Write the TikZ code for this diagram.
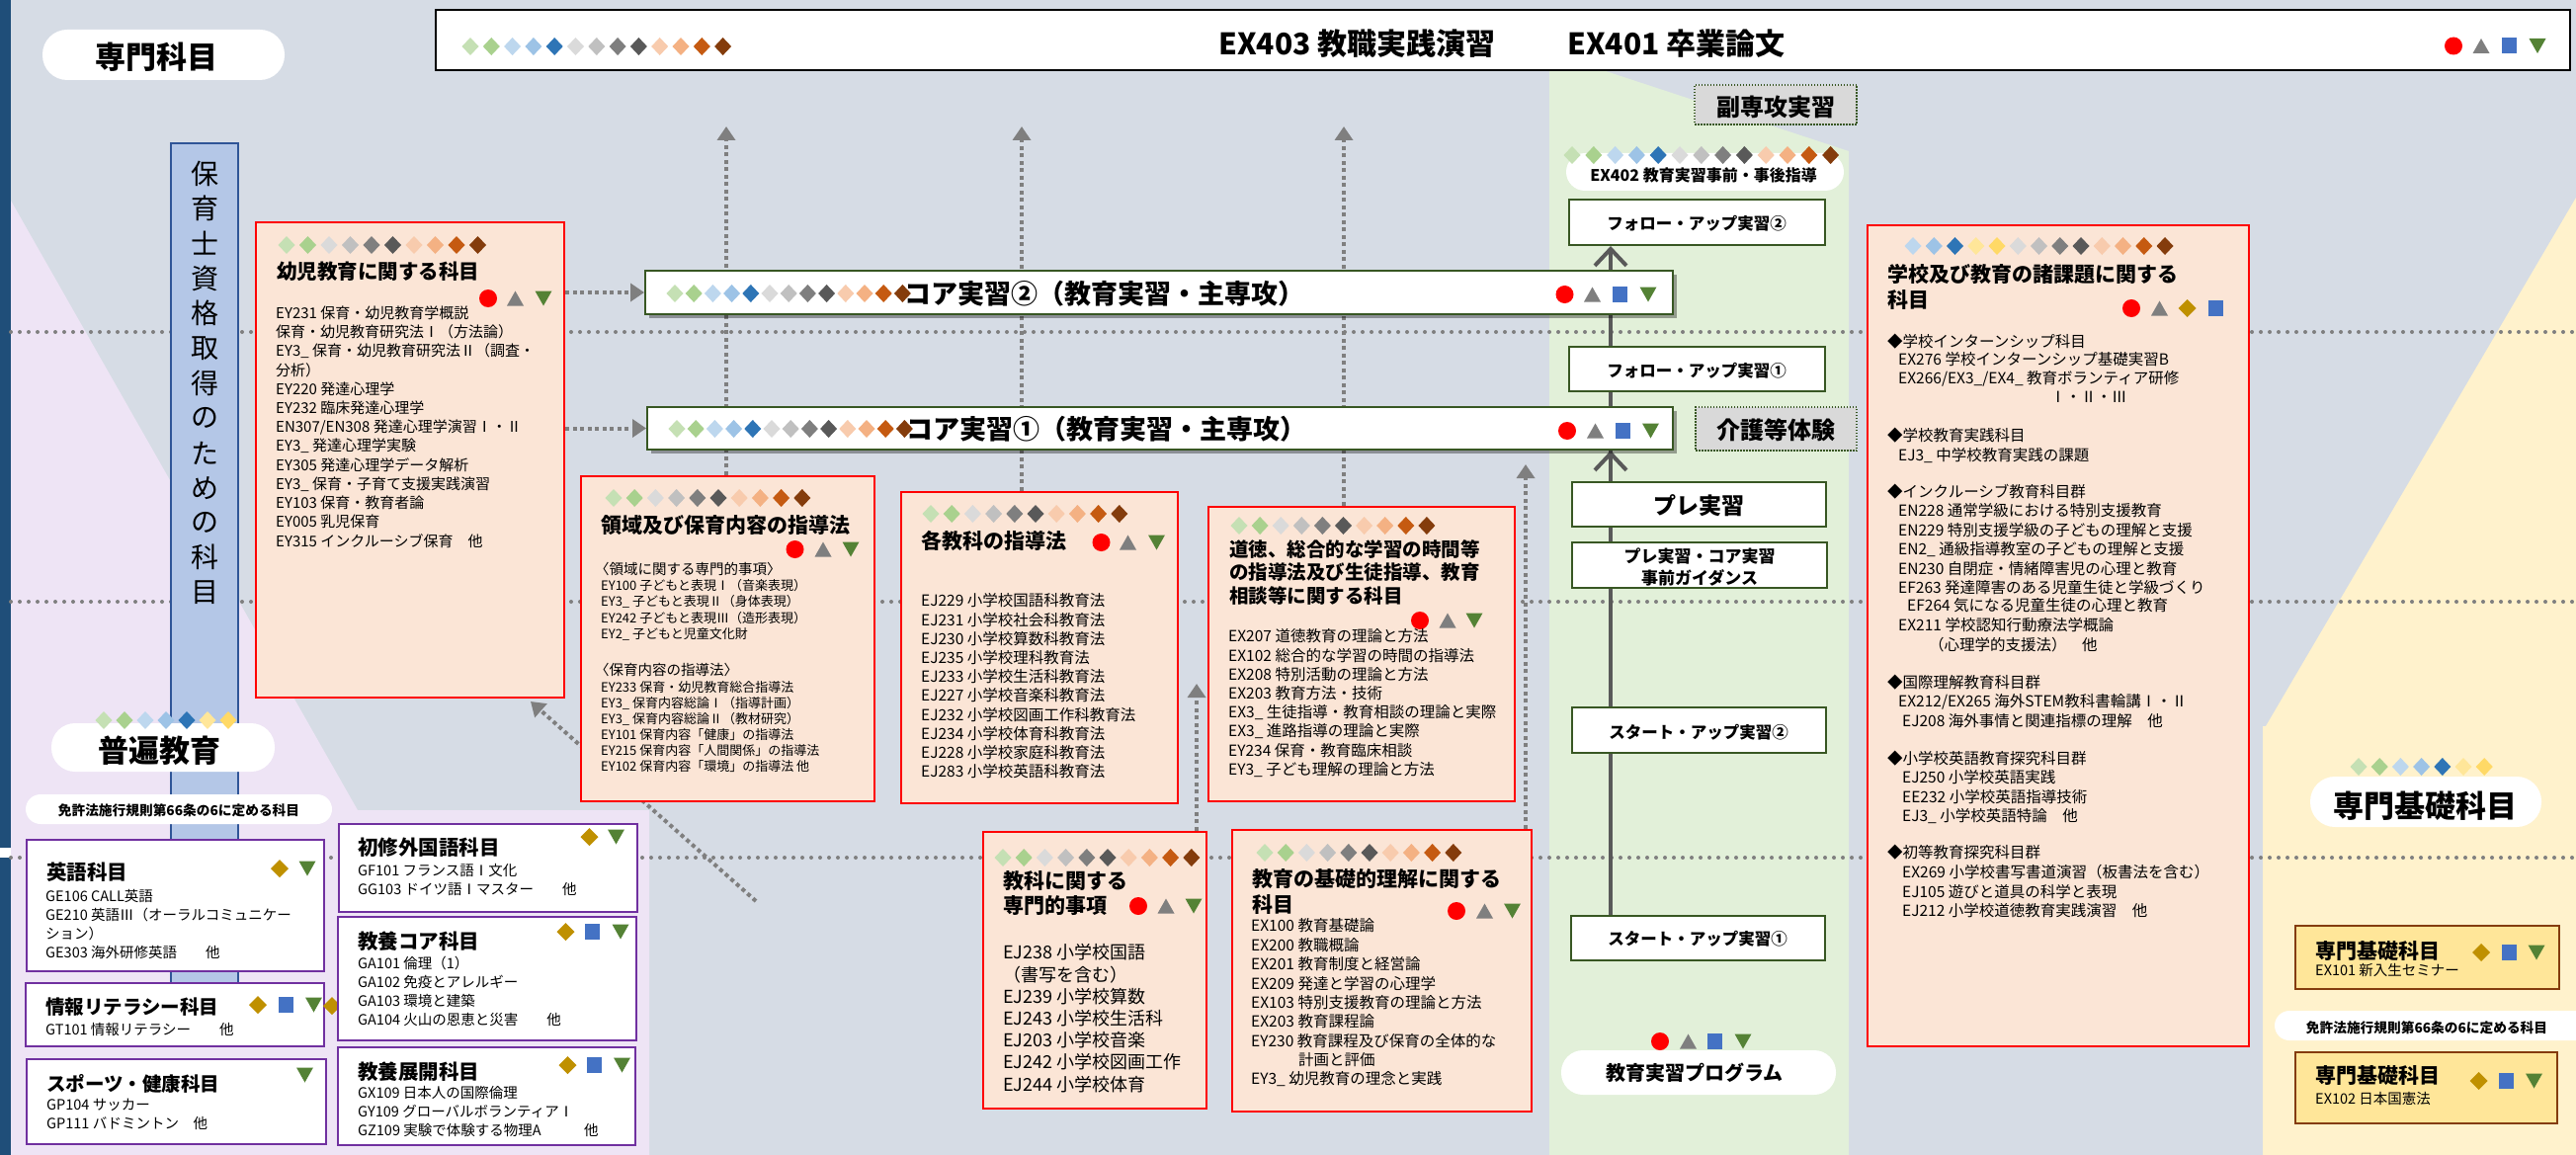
\documentclass[tikz,border=0pt]{standalone}
\usepackage{fontspec}
\setmainfont{Noto Sans CJK JP}
\usetikzlibrary{arrows.meta,shadows}
\pgfdeclarelayer{back}
\pgfdeclarelayer{mid}
\pgfsetlayers{back,mid,main}
\definecolor{bgc}{HTML}{D6DCE5}
\definecolor{lav}{HTML}{EEE4F5}
\definecolor{grn}{HTML}{E2F0D9}
\definecolor{ylw}{HTML}{FFF2CC}
\definecolor{stripe}{HTML}{1F4E79}
\definecolor{salmon}{HTML}{FBE5D6}
\definecolor{barfill}{HTML}{B4C7E7}
\definecolor{barline}{HTML}{2F5597}
\definecolor{dkgreen}{HTML}{385723}
\definecolor{purp}{HTML}{7030A0}
\definecolor{brownb}{HTML}{843C0C}
\definecolor{goldfill}{HTML}{FFE699}
\definecolor{dotgray}{HTML}{7F7F7F}
\definecolor{linegray}{HTML}{595959}
\definecolor{boxgray}{HTML}{D9D9D9}
\definecolor{dLG}{HTML}{C5E0B4}
\definecolor{dG}{HTML}{A9D18E}
\definecolor{dLB}{HTML}{BDD7EE}
\definecolor{dB}{HTML}{9DC3E6}
\definecolor{dDB}{HTML}{2E75B6}
\definecolor{dLY}{HTML}{FFE699}
\definecolor{dY}{HTML}{FFD966}
\definecolor{dLGr}{HTML}{DADADA}
\definecolor{dGr}{HTML}{C0C0C0}
\definecolor{dDGr}{HTML}{7F7F7F}
\definecolor{dDDGr}{HTML}{595959}
\definecolor{dLP}{HTML}{F8CBAD}
\definecolor{dP}{HTML}{F4B183}
\definecolor{dO}{HTML}{C55A11}
\definecolor{dBr}{HTML}{843C0C}
\definecolor{sRed}{HTML}{FF0000}
\definecolor{sGray}{HTML}{7F7F7F}
\definecolor{sBlue}{HTML}{4472C4}
\definecolor{sGreen}{HTML}{548235}
\definecolor{sGold}{HTML}{BF9000}
\def\dHdr{dLG,dG,dLB,dB,dDB,dLGr,dGr,dDGr,dDDGr,dLP,dP,dO,dBr}
\def\dSal{dLG,dG,dLGr,dGr,dDGr,dDDGr,dLP,dP,dO,dBr}
\def\dSch{dLB,dB,dDB,dLY,dY,dLGr,dGr,dDGr,dDDGr,dLP,dP,dO,dBr}
\def\dSev{dLG,dG,dLB,dB,dDB,dLY,dY}
\newcommand\fsz[1]{\fontsize{#1}{#1}\selectfont}
\newcommand\bx[6]{\node[#2,minimum width={#5-#3},minimum height={#6-#4},inner sep=0pt] (#1) at ({(#3+#5)/2},{(#4+#6)/2}) {};}
\newcommand\txtlines[6]{\foreach \xx [count=\i from 0] in {#6} {\node[anchor=west,inner sep=0pt,font=#5] (#1\i) at ({#2},{#3+\i*#4}) {\xx};}}
\newcommand\drow[4]{\foreach \cc [count=\i from 0] in #4 {\fill[fill=\cc] ({#1+\i*#3},{#2}) +(0,-9) -- +(8.5,0) -- +(0,9) -- +(-8.5,0) -- cycle;}}
\begin{document}
\begin{tikzpicture}[x=1pt,y=-1pt,
 darr/.style={draw=dotgray,line width=4pt,dash pattern=on 4pt off 3.5pt,-{Triangle[length=14pt,width=18pt]}},
 dotln/.style={draw=dotgray,line width=4pt,line cap=round,dash pattern=on 0pt off 9pt},
 progln/.style={draw=linegray,line width=4pt},
 salbox/.style={draw=red,line width=2.5pt,fill=salmon},
 purbox/.style={draw=purp,line width=2.5pt,fill=white},
 grnbox/.style={draw=dkgreen,line width=2pt,fill=white},
 coreb/.style={draw=dkgreen,line width=2pt,fill=white,drop shadow={shadow xshift=4pt,shadow yshift=-4pt,opacity=0.35,fill=black}},
 yelbox/.style={draw=brownb,line width=2.5pt,fill=goldfill},
 gryb/.style={draw=dkgreen,line width=1.5pt,dash pattern=on 1.5pt off 1.5pt,fill=boxgray},
 pillb/.style={fill=white},
 ttl/.style={anchor=west,inner sep=0pt,font=\bfseries\fsz{21}},
 txt/.style={anchor=west,inner sep=0pt},
 ctr/.style={anchor=center,inner sep=0pt},
 pcirc/.pic={\fill[sRed] (0,0) ellipse [x radius=9,y radius=9];},
 ptri/.pic={\fill[sGray] (-8.5,7.5) -- (8.5,7.5) -- (0,-7.5) -- cycle;},
 pinv/.pic={\fill[sGreen] (-8.5,-7.5) -- (8.5,-7.5) -- (0,7.5) -- cycle;},
 psq/.pic={\fill[sBlue] (-7.5,-8) rectangle (7.5,8);},
 pdia/.pic={\fill[sGold] (0,-9) -- (9,0) -- (0,9) -- (-9,0) -- cycle;}
]
\useasboundingbox (0,0) rectangle (2607,1169);
\begin{pgfonlayer}{back}
\fill[bgc] (0,0) rectangle (2607,1169);
\fill[lav] (11,203) -- (362,820) -- (657,820) -- (657,1169) -- (11,1169) -- cycle;
\fill[grn] (1568,71) -- (1622,71) -- (1871,153) -- (1871,1169) -- (1568,1169) -- cycle;
\fill[ylw] (2607,200) -- (2293,735) -- (2290,735) -- (2290,1169) -- (2607,1169) -- cycle;
\fill[stripe] (0,0) rectangle (11,858);
\fill[white] (0,858) rectangle (11,868);
\fill[stripe] (0,868) rectangle (11,1169);
\end{pgfonlayer}

% ---------- boxes ----------
\bx{hdr}{draw=black,line width=2.5pt,fill=white}{441}{10}{2601}{71}
\bx{pSenmon}{pillb,rounded corners=25pt}{43}{30}{288}{81}
\bx{bar}{draw=barline,line width=2pt,fill=barfill}{173}{145}{241}{1030}
\bx{boxA}{salbox}{259}{225}{571}{706}
\bx{boxB}{salbox}{588}{482}{885}{811}
\bx{boxC}{salbox}{912}{498}{1192}{813}
\bx{boxD}{salbox}{1223}{513}{1533}{811}
\bx{boxE}{salbox}{995}{842}{1221}{1122}
\bx{boxF}{salbox}{1247}{840}{1550}{1125}
\bx{boxG}{salbox}{1890}{228}{2276}{1059}
\bx{core2}{coreb}{653}{274}{1693}{318}
\bx{core1}{coreb}{655}{412}{1693}{455}
\bx{fuku}{gryb}{1715}{86}{1879}{126}
\bx{kaigo}{gryb}{1716}{412}{1879}{456}
\bx{ex402}{pillb,rounded corners=19pt}{1585}{155}{1866}{193}
\bx{fu2}{grnbox}{1588}{202}{1847}{248}
\bx{fu1}{grnbox}{1588}{351}{1847}{396}
\bx{pre}{grnbox}{1591}{488}{1848}{533}
\bx{guide}{grnbox}{1591}{549}{1849}{595}
\bx{su2}{grnbox}{1591}{716}{1848}{762}
\bx{su1}{grnbox}{1590}{927}{1847}{972}
\bx{pProg}{pillb,rounded corners=22pt}{1580}{1063}{1858}{1108}
\bx{pFuhen}{pillb,rounded corners=24pt}{52}{732}{278}{781}
\bx{pMenL}{pillb,rounded corners=15pt}{26}{804}{336}{834}
\bx{eigo}{purbox}{27}{850}{328}{983}
\bx{joho}{purbox}{26}{995}{328}{1059}
\pic at (336,1018) {pdia};
\bx{shoshu}{purbox}{343}{834}{645}{923}
\bx{kcore}{purbox}{342}{928}{644}{1053}
\bx{sport}{purbox}{27}{1072}{330}{1158}
\bx{ktenkai}{purbox}{342}{1060}{643}{1159}
\bx{pKiso}{pillb,rounded corners=25pt}{2338}{786}{2572}{837}
\bx{kiso1}{yelbox}{2323}{937}{2590}{1001}
\bx{pMenR}{pillb,rounded corners=15pt}{2302}{1023}{2625}{1053}
\bx{kiso2}{yelbox}{2323}{1065}{2588}{1137}

% ---------- lines and arrows ----------
\begin{pgfonlayer}{mid}
\coordinate (hl1a) at (11,336); \coordinate (hl1b) at (2607,336);
\coordinate (hl2a) at (11,609); \coordinate (hl2b) at (2607,609);
\coordinate (hl3a) at (11,868); \coordinate (hl3b) at (2607,868);
\draw[dotln] (hl1a) -- (hl1b);
\draw[dotln] (hl2a) -- (hl2b);
\draw[dotln] (hl3a) -- (hl3b);
\draw[darr] (boxA.east |- core2) -- (core2.west);
\draw[darr] (boxA.east |- core1) -- (core1.west);
\coordinate (tB) at (735,128);
\coordinate (tC) at (1034,128);
\coordinate (tD) at (1360,128);
\coordinate (tE) at (1211,692);
\coordinate (tF) at (1544,470);
\draw[darr] (boxB.north -| tB) -- (tB);
\draw[darr] (boxC.north -| tC) -- (tC);
\draw[darr] (boxD.north -| tD) -- (tD);
\draw[darr] (boxE.north -| tE) -- (tE);
\draw[darr] (boxF.north -| tF) -- (tF);
\coordinate (dgS) at (765,912);
\coordinate (dgT) at (537,710);
\draw[darr] (dgS) -- (dgT);
\coordinate (lx) at (1630,0);
\draw[progln,-{Straight Barb[length=17pt,width=32pt]}] (su1.north -| lx) -- (fu2.south -| lx);
\draw[progln,-{Straight Barb[length=17pt,width=32pt]}] (pre.north -| lx) -- (core1.south -| lx);
\end{pgfonlayer}

% ---------- header ----------
\drow{476}{47}{21.3}{\dHdr}
\node[txt,font=\bfseries\fsz{30}] (h1) at (1233,44) {EX403 教職実践演習};
\node[txt,font=\bfseries\fsz{30}] (h2) at (1586,44) {EX401 卒業論文};
\pic at (2483,46.5) {pcirc}; \pic at (2511,46.5) {ptri}; \pic at (2539,46.5) {psq}; \pic at (2568,46.5) {pinv};
\node[ctr,font=\bfseries\fsz{31}] (tSenmon) at (158,58) {専門科目};

% ---------- vertical bar ----------
\foreach \cc [count=\i from 0] in {保,育,士,資,格,取,得,の,た,め,の,科,目} {\node[ctr,font=\fsz{28}] (v\i) at (207,{176+\i*35.3}) {\cc};}

% ---------- box A ----------
\drow{290}{248}{21.5}{\dSal}
\node[ttl,font=\bfseries\fsz{20.5}] (tA) at (280,275) {幼児教育に関する科目};
\pic at (494,302) {pcirc}; \pic at (521.5,302) {ptri}; \pic at (550,302) {pinv};
\txtlines{A}{279}{317}{19.2}{\fsz{15}}{EY231 保育・幼児教育学概説,保育・幼児教育研究法Ⅰ（方法論）,EY3\_ 保育・幼児教育研究法Ⅱ（調査・,分析）,EY220 発達心理学,EY232 臨床発達心理学,EN307/EN308 発達心理学演習Ⅰ・Ⅱ,EY3\_ 発達心理学実験,EY305 発達心理学データ解析,EY3\_ 保育・子育て支援実践演習,EY103 保育・教育者論,EY005 乳児保育,EY315 インクルーシブ保育　他}

% ---------- box B ----------
\drow{621}{504}{21.2}{\dSal}
\node[ttl] (tB0) at (608,532) {領域及び保育内容の指導法};
\pic at (804.5,556) {pcirc}; \pic at (833,556) {ptri}; \pic at (861,556) {pinv};
\node[txt,font=\fsz{14.5}] (Bh1) at (602,576) {〈領域に関する専門的事項〉};
\txtlines{Ba}{608}{593}{16.3}{\fsz{13}}{EY100 子どもと表現Ⅰ（音楽表現）,EY3\_ 子どもと表現Ⅱ（身体表現）,EY242 子どもと表現Ⅲ（造形表現）,EY2\_ 子どもと児童文化財}
\node[txt,font=\fsz{14.5}] (Bh2) at (602,678) {〈保育内容の指導法〉};
\txtlines{Bb}{608}{696}{15.9}{\fsz{13}}{EY233 保育・幼児教育総合指導法,EY3\_ 保育内容総論Ⅰ（指導計画）,EY3\_ 保育内容総論Ⅱ（教材研究）,EY101 保育内容「健康」の指導法,EY215 保育内容「人間関係」の指導法,EY102 保育内容「環境」の指導法 他}

% ---------- box C ----------
\drow{942}{520}{21.2}{\dSal}
\node[ttl] (tC0) at (932,547) {各教科の指導法};
\pic at (1114.5,549) {pcirc}; \pic at (1141.5,549) {ptri}; \pic at (1170.5,549) {pinv};
\txtlines{C}{932}{608}{19.2}{\fsz{15.5}}{EJ229 小学校国語科教育法,EJ231 小学校社会科教育法,EJ230 小学校算数科教育法,EJ235 小学校理科教育法,EJ233 小学校生活科教育法,EJ227 小学校音楽科教育法,EJ232 小学校図画工作科教育法,EJ234 小学校体育科教育法,EJ228 小学校家庭科教育法,EJ283 小学校英語科教育法}

% ---------- box D ----------
\drow{1254}{532}{21.1}{\dSal}
\txtlines{Dt}{1244}{556}{23.5}{\bfseries\fsz{19.5}}{道徳、総合的な学習の時間等,の指導法及び生徒指導、教育,相談等に関する科目}
\pic at (1437,628) {pcirc}; \pic at (1465,628) {ptri}; \pic at (1492,628) {pinv};
\txtlines{D}{1243}{644}{19.3}{\fsz{15.5}}{EX207 道徳教育の理論と方法,EX102 総合的な学習の時間の指導法,EX208 特別活動の理論と方法,EX203 教育方法・技術,EX3\_ 生徒指導・教育相談の理論と実際,EX3\_ 進路指導の理論と実際,EY234 保育・教育臨床相談,EY3\_ 子ども理解の理論と方法}

% ---------- box E ----------
\drow{1015}{868}{21.2}{\dSal}
\txtlines{Et}{1015}{892}{25}{\bfseries\fsz{21}}{教科に関する,専門的事項}
\pic at (1152,917) {pcirc}; \pic at (1180,917) {ptri}; \pic at (1208,917) {pinv};
\txtlines{E}{1015}{964}{22.2}{\fsz{18}}{EJ238 小学校国語,（書写を含む）,EJ239 小学校算数,EJ243 小学校生活科,EJ203 小学校音楽,EJ242 小学校図画工作,EJ244 小学校体育}

% ---------- box F ----------
\drow{1280}{863}{21.2}{\dSal}
\txtlines{Ft}{1267}{890}{26}{\bfseries\fsz{21}}{教育の基礎的理解に関する,科目}
\pic at (1474,922) {pcirc}; \pic at (1502.5,922) {ptri}; \pic at (1530.5,922) {pinv};
\txtlines{F}{1266}{937}{19.4}{\fsz{15.5}}{EX100 教育基礎論,EX200 教職概論,EX201 教育制度と経営論,EX209 発達と学習の心理学,EX103 特別支援教育の理論と方法,EX203 教育課程論,EY230 教育課程及び保育の全体的な}
\node[txt,font=\fsz{15.5}] (Fk) at (1314,1072.8) {計画と評価};
\node[txt,font=\fsz{15.5}] (Fl) at (1266,1092) {EY3\_ 幼児教育の理念と実践};

% ---------- box G ----------
\drow{1936}{249}{21.25}{\dSch}
\txtlines{Gt}{1910}{278}{26}{\bfseries\fsz{21}}{学校及び教育の諸課題に関する,科目}
\pic at (2157,312) {pcirc}; \pic at (2185.5,312) {ptri}; \pic at (2213.5,312) {pdia}; \pic at (2242,312) {psq};
\begin{scope}[every node/.append style={font=\fsz{15.5}}]
\node[txt] (Ga) at (1910,346) {◆学校インターンシップ科目};
\txtlines{Gb}{1921}{364}{19}{\fsz{15.5}}{EX276 学校インターンシップ基礎実習B,EX266/EX3\_/EX4\_ 教育ボランティア研修}
\node[txt] (Gc) at (2075,402) {Ⅰ・Ⅱ・Ⅲ};
\node[txt] (Gd) at (1910,441) {◆学校教育実践科目};
\node[txt] (Ge) at (1921,461) {EJ3\_ 中学校教育実践の課題};
\node[txt] (Gf) at (1910,498) {◆インクルーシブ教育科目群};
\txtlines{Gg}{1921}{517}{19.5}{\fsz{15.5}}{EN228 通常学級における特別支援教育,EN229 特別支援学級の子どもの理解と支援,EN2\_ 通級指導教室の子どもの理解と支援,EN230 自閉症・情緒障害児の心理と教育,EF263 発達障害のある児童生徒と学級づくり}
\node[txt] (Gh) at (1930,613) {EF264 気になる児童生徒の心理と教育};
\node[txt] (Gi) at (1921,633) {EX211 学校認知行動療法学概論};
\node[txt] (Gj) at (1952,653) {（心理学的支援法）　他};
\node[txt] (Gk) at (1910,691) {◆国際理解教育科目群};
\node[txt] (Gl) at (1921,710) {EX212/EX265 海外STEM教科書輪講Ⅰ・Ⅱ};
\node[txt] (Gm) at (1925,730) {EJ208 海外事情と関連指標の理解　他};
\node[txt] (Gn) at (1910,768) {◆小学校英語教育探究科目群};
\txtlines{Go}{1925}{787}{19.5}{\fsz{15.5}}{EJ250 小学校英語実践,EE232 小学校英語指導技術,EJ3\_ 小学校英語特論　他}
\node[txt] (Gp) at (1910,863) {◆初等教育探究科目群};
\txtlines{Gq}{1925}{883}{19.5}{\fsz{15.5}}{EX269 小学校書写書道演習（板書法を含む）,EJ105 遊びと道具の科学と表現,EJ212 小学校道徳教育実践演習　他}
\end{scope}

% ---------- core boxes ----------
\drow{683}{297}{19.2}{\dHdr}
\node[txt,font=\bfseries\fsz{27}] (c2t) at (915,297) {コア実習②（教育実習・主専攻）};
\pic at (1583.5,298) {pcirc}; \pic at (1611.5,298) {ptri}; \pic at (1639.5,298) {psq}; \pic at (1668,298) {pinv};
\drow{685}{434}{19.2}{\dHdr}
\node[txt,font=\bfseries\fsz{27}] (c1t) at (917,434) {コア実習①（教育実習・主専攻）};
\pic at (1586,436) {pcirc}; \pic at (1614.5,436) {ptri}; \pic at (1642.5,436) {psq}; \pic at (1670.5,436) {pinv};

% ---------- program column ----------
\node[ctr,font=\bfseries\fsz{24}] (tFuku) at (1797,108) {副専攻実習};
\node[ctr,font=\bfseries\fsz{24}] (tKaigo) at (1797,435) {介護等体験};
\drow{1591}{157}{21.8}{\dHdr}
\node[ctr,font=\bfseries\fsz{16}] (tEx402) at (1724,177) {EX402 教育実習事前・事後指導};
\node[ctr,font=\bfseries\fsz{16.5}] (tFu2) at (1717,226) {フォロー・アップ実習②};
\node[ctr,font=\bfseries\fsz{16.5}] (tFu1) at (1717,375) {フォロー・アップ実習①};
\node[ctr,font=\bfseries\fsz{23}] (tPre) at (1719,512) {プレ実習};
\node[ctr,font=\bfseries\fsz{17}] (tGu1) at (1720,563) {プレ実習・コア実習};
\node[ctr,font=\bfseries\fsz{17}] (tGu2) at (1720,585) {事前ガイダンス};
\node[ctr,font=\bfseries\fsz{16.5}] (tSu2) at (1719,741) {スタート・アップ実習②};
\node[ctr,font=\bfseries\fsz{16.5}] (tSu1) at (1718,950) {スタート・アップ実習①};
\pic at (1680,1054) {pcirc}; \pic at (1708.5,1054) {ptri}; \pic at (1735.5,1054) {psq}; \pic at (1764,1054) {pinv};
\node[ctr,font=\bfseries\fsz{20}] (tProg) at (1715,1086) {教育実習プログラム};

% ---------- left general education ----------
\node[ctr,font=\bfseries\fsz{31}] (tFuhen) at (161,760) {普遍教育};
\drow{105}{729}{21}{\dSev}
\node[ctr,font=\bfseries\fsz{13.7}] (tMenL) at (181,820) {免許法施行規則第66条の6に定める科目};
\node[ttl,font=\bfseries\fsz{20.5}] (tEigo) at (47,883) {英語科目};
\pic at (283,879) {pdia}; \pic at (311,879) {pinv};
\txtlines{Eg}{46}{907}{19}{\fsz{14.5}}{GE106 CALL英語,GE210 英語Ⅲ（オーラルコミュニケー,ション）,GE303 海外研修英語　　他}
\node[ttl,font=\bfseries\fsz{19.5}] (tJoho) at (46,1019) {情報リテラシー科目};
\pic at (261,1017) {pdia}; \pic at (289.5,1017) {psq}; \pic at (317.5,1017) {pinv};
\node[txt,font=\fsz{14.5}] (Jo0) at (46,1042) {GT101 情報リテラシー　　他};
\node[ttl,font=\bfseries\fsz{19.5}] (tSport) at (47,1097) {スポーツ・健康科目};
\pic at (308.5,1088) {pinv};
\txtlines{Sp}{47}{1118}{19}{\fsz{14.5}}{GP104 サッカー,GP111 バドミントン　他}
\node[ttl,font=\bfseries\fsz{20.5}] (tShoshu) at (362,858) {初修外国語科目};
\pic at (596.5,847) {pdia}; \pic at (623.5,847) {pinv};
\txtlines{Sh}{362}{881}{18.5}{\fsz{14.5}}{GF101 フランス語Ⅰ文化,GG103 ドイツ語Ⅰマスター　　他}
\node[ttl,font=\bfseries\fsz{20.5}] (tKcore) at (362,953) {教養コア科目};
\pic at (572.5,943) {pdia}; \pic at (599.5,943) {psq}; \pic at (628,943) {pinv};
\txtlines{Kc}{362}{975}{19}{\fsz{14.5}}{GA101 倫理（1）,GA102 免疫とアレルギー,GA103 環境と建築,GA104 火山の恩恵と災害　　他}
\node[ttl,font=\bfseries\fsz{20.5}] (tKten) at (362,1085) {教養展開科目};
\pic at (574.5,1078) {pdia}; \pic at (601.5,1078) {psq}; \pic at (629.5,1078) {pinv};
\txtlines{Kt}{362}{1106}{19}{\fsz{14.5}}{GX109 日本人の国際倫理,GY109 グローバルボランティアⅠ,GZ109 実験で体験する物理A　　　他}

% ---------- right basic subjects ----------
\drow{2387}{776}{21.2}{\dSev}
\node[ctr,font=\bfseries\fsz{31}] (tKiso) at (2454,816) {専門基礎科目};
\node[ttl] (tK1) at (2343,963) {専門基礎科目};
\pic at (2511,964) {pdia}; \pic at (2539,964) {psq}; \pic at (2567,964) {pinv};
\node[txt,font=\fsz{14.5}] (K1l) at (2343,982) {EX101 新入生セミナー};
\node[ctr,font=\bfseries\fsz{13.7}] (tMenR) at (2456,1040) {免許法施行規則第66条の6に定める科目};
\node[ttl] (tK2) at (2343,1089) {専門基礎科目};
\pic at (2508.5,1094) {pdia}; \pic at (2536,1094) {psq}; \pic at (2564.5,1094) {pinv};
\node[txt,font=\fsz{14.5}] (K2l) at (2343,1112) {EX102 日本国憲法};
\end{tikzpicture}
\end{document}
